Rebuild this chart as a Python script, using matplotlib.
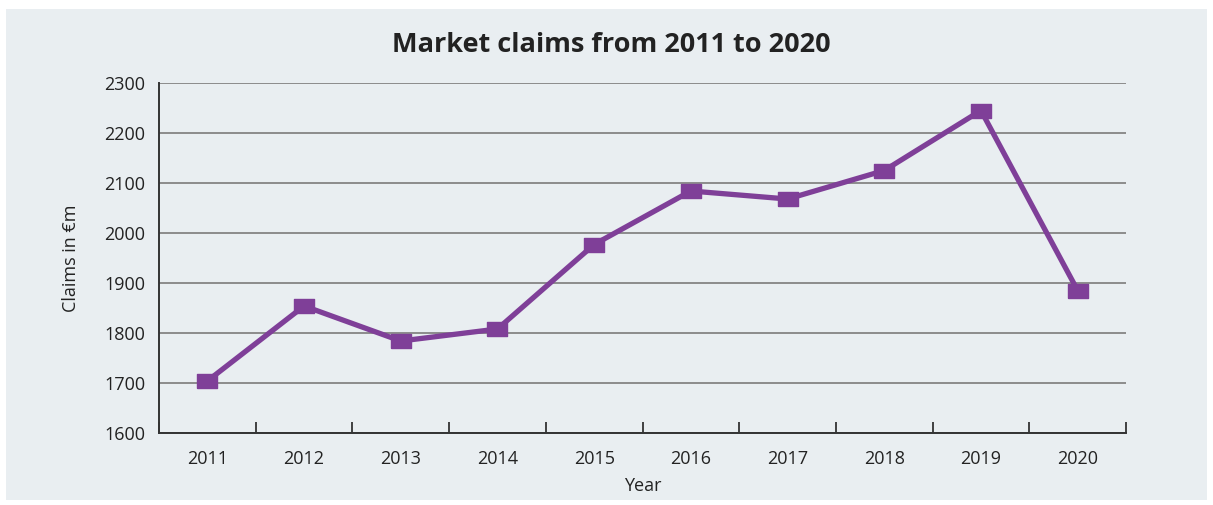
import numpy as np
import matplotlib.pyplot as plt
from matplotlib.patches import Rectangle

years = ["2011", "2012", "2013", "2014", "2015", "2016", "2017", "2018", "2019", "2020"]
claims = [1704, 1854, 1784, 1808, 1977, 2084, 2068, 2125, 2245, 1885]
y_ticks = [1600, 1700, 1800, 1900, 2000, 2100, 2200, 2300]

BG = "#e9eef1"
PURPLE = "#7f3f98"
plt.rcParams['font.family'] = ['Open Sans', 'DejaVu Sans']

fig = plt.figure(figsize=(12.13, 5.05), dpi=100)
fig.patch.set_facecolor("white")
# grey panel behind the chart, white margin around it
fig.patches.append(Rectangle((6 / 1213, 5 / 505), 1201 / 1213, 491 / 505,
                             transform=fig.transFigure, facecolor=BG, edgecolor="none", zorder=-1))

ax = fig.add_axes([159 / 1213, 1 - 433 / 505, 967 / 1213, 350 / 505])
ax.set_facecolor(BG)

x = np.arange(len(years))
rect_marker = [(-1.4, -1), (1.4, -1), (1.4, 1), (-1.4, 1), (-1.4, -1)]
ax.plot(x, claims, color=PURPLE, linewidth=3.8, marker=rect_marker, markersize=15,
        markerfacecolor=PURPLE, markeredgecolor=PURPLE, zorder=3, clip_on=False)

ax.set_xlim(-0.5, len(years) - 0.5)
ax.set_ylim(1600, 2300)
ax.set_yticks(y_ticks)
ax.set_yticklabels([str(v) for v in y_ticks], fontsize=13, color="#222222")
ax.yaxis.grid(True, color="#8c8c8c", linewidth=1.4)
ax.set_axisbelow(True)

# category labels centred, tick marks between categories
ax.set_xticks(x)
ax.set_xticklabels(years, fontsize=13, color="#222222")
ax.tick_params(axis="x", length=0, pad=12)
ax.set_xticks(np.arange(-0.5, len(years)), minor=True)
ax.tick_params(axis="x", which="minor", direction="in", length=8, width=1.3, color="#333333")
ax.tick_params(axis="y", length=0, pad=10)

for side in ["top", "right"]:
    ax.spines[side].set_visible(False)
ax.spines["left"].set_color("#333333")
ax.spines["bottom"].set_color("#333333")
ax.spines["left"].set_linewidth(1.4)
ax.spines["bottom"].set_linewidth(1.4)

ax.set_xlabel("Year", fontsize=13, color="#222222", labelpad=7)
ax.set_ylabel("Claims in €m", fontsize=13, color="#222222", labelpad=17)
fig.text(611 / 1213, 1 - 45 / 505, "Market claims from 2011 to 2020", ha="center", va="center",
         fontsize=19.5, fontweight="bold", color="#222222")

plt.savefig("out.png", dpi=100, facecolor=fig.get_facecolor())
